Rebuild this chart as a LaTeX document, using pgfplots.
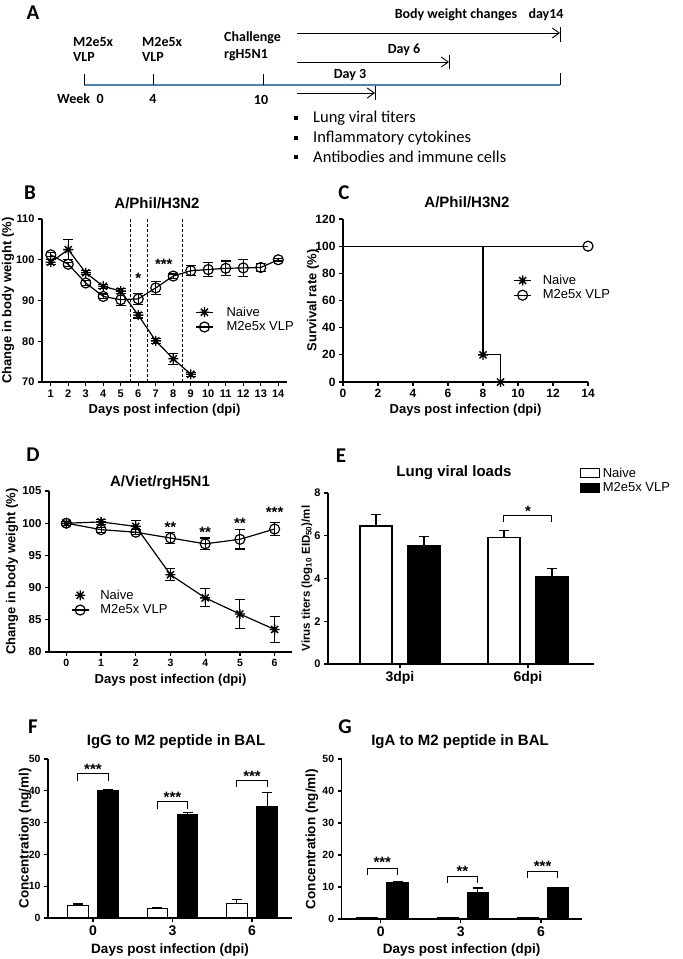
\documentclass[border=0pt]{standalone}
\usepackage{fontspec}
\setmainfont{Liberation Sans}
\newfontfamily\calfont{Carlito}
\usepackage{pgfplots}
\pgfplotsset{compat=1.18}
\usetikzlibrary{arrows.meta}
\definecolor{tlblue}{RGB}{79,129,189}
\newcommand{\fs}[1]{\fontsize{#1}{#1}\selectfont}

% eight-armed asterisk marker (GraphPad style)
\pgfdeclareplotmark{ast}{%
  \pgfpathmoveto{\pgfpoint{-\pgfplotmarksize}{0pt}}%
  \pgfpathlineto{\pgfpoint{\pgfplotmarksize}{0pt}}%
  \pgfpathmoveto{\pgfpoint{0pt}{-\pgfplotmarksize}}%
  \pgfpathlineto{\pgfpoint{0pt}{\pgfplotmarksize}}%
  \pgfpathmoveto{\pgfpoint{-0.707\pgfplotmarksize}{-0.707\pgfplotmarksize}}%
  \pgfpathlineto{\pgfpoint{0.707\pgfplotmarksize}{0.707\pgfplotmarksize}}%
  \pgfpathmoveto{\pgfpoint{-0.707\pgfplotmarksize}{0.707\pgfplotmarksize}}%
  \pgfpathlineto{\pgfpoint{0.707\pgfplotmarksize}{-0.707\pgfplotmarksize}}%
  \pgfusepathqstroke}

\tikzset{st/.style={font=\bfseries\fs{15}, inner sep=0pt, yshift=-3pt}}

\pgfplotsset{
  gp/.style={
    scale only axis, anchor=south west, clip=false,
    axis x line*=bottom, axis y line*=left,
    axis line style={line width=1.3pt},
    tick style={line width=1.2pt, black},
    major tick length=4pt, tick align=outside,
    /pgf/number format/assume math mode=true,
    tick label style={font=\bfseries\fs{11}},
    label style={font=\bfseries\fs{13}},
    legend style={draw=none, fill=none, font=\fs{13}, inner sep=0pt, row sep=0pt},
    legend cell align=left,
  },
  lsep/.style={legend style={/tikz/every odd column/.append style={column sep=#1}}},
  eb/.style={error bars/y dir=both, error bars/y explicit,
    error bars/error bar style={line width=1.1pt, solid},
    error bars/error mark options={rotate=90, mark size=5pt, line width=1.1pt}},
  ebp/.style={eb, error bars/y dir=plus},
  ln/.style={black, line width=1.2pt},
  nv/.style={ln, mark=ast, mark size=5pt, mark options={line width=1.4pt}},
  vl/.style={ln, mark=o, mark size=5pt, mark options={fill=white, line width=1.2pt}},
  wb/.style={ybar, bar shift=0pt, draw=black, fill=white, line width=1.2pt},
  bb/.style={ybar, bar shift=0pt, draw=black, fill=black, line width=1.2pt},
}

\begin{document}
\begin{tikzpicture}
\useasboundingbox (0,0) rectangle (683pt,-959pt);

% ---------- panel A: timeline ----------
\begin{scope}[font=\calfont\bfseries\fs{14}, every node/.style={inner sep=0pt}]
\draw[tlblue, line width=1.6pt] (84pt,-85pt) -- (560pt,-85pt);
\foreach \x in {84,153,263} \draw[line width=1pt] (\x pt,-74pt) -- (\x pt,-85pt);
\draw[line width=1pt] (560pt,-73pt) -- (560pt,-85pt);
\node[anchor=west] at (73pt,-42pt) {M2e5x};
\node[anchor=west] at (73pt,-57pt) {VLP};
\node[anchor=west] at (142pt,-42pt) {M2e5x};
\node[anchor=west] at (142pt,-57pt) {VLP};
\node[anchor=west] at (224pt,-38pt) {Challenge};
\node[anchor=west] at (224pt,-55pt) {rgH5N1};
\node[anchor=west] at (57pt,-99pt) {Week\ \ 0};
\node at (153pt,-99pt) {4};
\node at (261pt,-100pt) {10};
\draw[line width=0.9pt, -{Straight Barb[length=7pt, width=10pt]}] (297pt,-33pt) -- (560pt,-33pt);
\draw[line width=1pt] (560pt,-27pt) -- (560pt,-42pt);
\draw[line width=0.9pt, -{Straight Barb[length=7pt, width=10pt]}] (297pt,-62pt) -- (449pt,-62pt);
\draw[line width=1pt] (449pt,-55pt) -- (449pt,-69pt);
\draw[line width=0.9pt, -{Straight Barb[length=7pt, width=10pt]}] (297pt,-93pt) -- (375pt,-93pt);
\draw[line width=1pt] (375pt,-86pt) -- (375pt,-100pt);
\node at (456pt,-15pt) {Body weight changes};
\node at (546pt,-15pt) {day14};
\node at (404pt,-50pt) {Day 6};
\node at (350pt,-75pt) {Day 3};
\foreach \y/\t in {118/Lung viral titers, 138/Inflammatory cytokines, 157/Antibodies and immune cells} {
  \fill (294pt,-\y pt+2pt) rectangle (298pt,-\y pt-2pt);
  \node[anchor=west, font=\calfont\fs{16.5}] at (313pt,-\y pt) {\t};
}
\end{scope}

% ---------- panel B ----------
\begin{axis}[gp, at={(42pt,-382pt)}, width=245pt, height=163pt,
  xmin=0.5, xmax=14.5, ymin=70, ymax=110,
  xtick={1,...,14}, ytick={70,80,...,110},
  tick label style={font=\bfseries\fs{11}},
  xlabel={Days post infection (dpi)}, ylabel={Change in body weight (\%)},
  xlabel style={at={(axis description cs:0.5,-0.172)}, anchor=center},
  ylabel style={at={(axis description cs:-0.139,0.5)}, anchor=center},
  legend style={at={(axis description cs:0.625,0.475)}, anchor=north west}, lsep=11pt]
\draw[line width=0.8pt, dash pattern=on 3pt off 2pt] (axis cs:5.55,70) -- (axis cs:5.55,110);
\draw[line width=0.8pt, dash pattern=on 3pt off 2pt] (axis cs:6.5,70) -- (axis cs:6.5,110);
\draw[line width=0.8pt, dash pattern=on 3pt off 2pt] (axis cs:8.5,70) -- (axis cs:8.5,110);
\addplot[nv, forget plot, eb] coordinates {
  (1,99.4) +- (0,0.6) (2,102.5) +- (0,2.5) (3,96.8) +- (0,0.5) (4,93.5) +- (0,0.5)
  (5,92.3) +- (0,0.6) (6,86.4) +- (0,0.7) (7,80.1) +- (0,0.6) (8,75.7) +- (0,1.3)
  (9,71.9) +- (0,0.5)};
\addplot[vl, forget plot, eb] coordinates {
  (1,101.2) +- (0,0.5) (2,98.9) +- (0,0.5) (3,94.3) +- (0,0.6) (4,91.0) +- (0,0.6)
  (5,90.2) +- (0,1.5) (6,90.4) +- (0,1.4) (7,93.1) +- (0,1.6) (8,96.0) +- (0,0.5)
  (9,97.3) +- (0,1.2) (10,97.6) +- (0,1.8) (11,97.9) +- (0,1.8) (12,98.0) +- (0,2.0)
  (13,98.1) +- (0,1.0) (14,100.0) +- (0,0.3)};
\addlegendimage{nv}\addlegendentry{Naive}
\addlegendimage{vl}\addlegendentry{M2e5x VLP}
\node[st] at (axis cs:6,96.2) {*};
\node[st] at (axis cs:7.46,99.5) {***};
\end{axis}

% ---------- panel C ----------
\begin{axis}[gp, at={(343pt,-382pt)}, width=245pt, height=163pt,
  xmin=0, xmax=14, ymin=0, ymax=120,
  xtick={0,2,...,14}, ytick={0,20,...,120},
  tick label style={font=\bfseries\fs{12}},
  xlabel={Days post infection (dpi)}, ylabel={Survival rate (\%)},
  xlabel style={at={(axis description cs:0.5,-0.172)}, anchor=center},
  ylabel style={at={(axis description cs:-0.122,0.5)}, anchor=center},
  legend style={at={(axis description cs:0.695,0.67)}, anchor=north west}, lsep=9pt]
\addplot[nv, const plot, mark indices={2,3}, forget plot] coordinates {(0,100) (8,20) (9,0)};
\addplot[vl, const plot, mark indices={2}, forget plot] coordinates {(0,100) (14,100)};
\addlegendimage{nv}\addlegendentry{Naive}
\addlegendimage{vl}\addlegendentry{M2e5x VLP}
\end{axis}

% ---------- panel D ----------
\begin{axis}[gp, at={(49pt,-652pt)}, width=243pt, height=161pt,
  xmin=-0.5, xmax=6.5, ymin=80, ymax=105,
  xtick={0,...,6}, ytick={80,85,...,105},
  yticklabel style={font=\bfseries\fs{11.5}}, xticklabel style={font=\bfseries\fs{10.5}},
  label style={font=\bfseries\fs{13}},
  xlabel={Days post infection (dpi)}, ylabel={Change in body weight (\%)},
  xlabel style={at={(axis description cs:0.5,-0.174)}, anchor=center},
  ylabel style={at={(axis description cs:-0.152,0.5)}, anchor=center},
  legend style={at={(axis description cs:0.09,0.40)}, anchor=north west}, lsep=9pt]
\addplot[nv, forget plot, eb] coordinates {
  (0,100.0) +- (0,0.3) (1,100.2) +- (0,0.4) (2,99.5) +- (0,0.9) (3,92.0) +- (0,0.9)
  (4,88.4) +- (0,1.4) (5,85.9) +- (0,2.2) (6,83.5) +- (0,2.0)};
\addplot[vl, forget plot, eb] coordinates {
  (0,100.0) +- (0,0.3) (1,99.0) +- (0,0.4) (2,98.6) +- (0,0.4) (3,97.7) +- (0,0.9)
  (4,96.8) +- (0,0.9) (5,97.5) +- (0,1.5) (6,99.1) +- (0,1.0)};
\addlegendimage{nv, only marks}\addlegendentry{Naive}
\addlegendimage{vl}\addlegendentry{M2e5x VLP}
\node[st] at (axis cs:3,99.8) {**};
\node[st] at (axis cs:4,99.1) {**};
\node[st] at (axis cs:5,100.4) {**};
\node[st] at (axis cs:6,102.1) {***};
\end{axis}

% ---------- panel E ----------
\begin{axis}[gp, at={(328pt,-664pt)}, width=266pt, height=171pt,
  xmin=-0.5625, xmax=1.516, ymin=0, ymax=8,
  xtick={0,1}, xticklabels={3dpi,6dpi}, ytick={0,2,...,8},
  bar width=0.25,
  yticklabel style={font=\bfseries\fs{11}}, xticklabel style={font=\bfseries\fs{14}},
  label style={font=\bfseries\fs{11.5}},
  ylabel={Virus titers (log\textsubscript{10} EID\textsubscript{50})/ml},
  ylabel style={at={(axis description cs:-0.079,0.5)}, anchor=center},
  legend style={at={(axis description cs:0.945,1.16)}, anchor=north west}, lsep=1pt]
\addplot[wb, forget plot, ebp] coordinates {(-0.1875,6.46) +- (0,0.54) (0.8125,5.92) +- (0,0.31)};
\addplot[bb, forget plot, ebp] coordinates {(0.1875,5.56) +- (0,0.42) (1.1875,4.07) +- (0,0.40)};
\addlegendimage{legend image code/.code={\draw[fill=white, line width=1.2pt] (0pt,-4.5pt) rectangle (19pt,4.5pt);}}
\addlegendentry{Naive}
\addlegendimage{legend image code/.code={\draw[fill=black, line width=1.2pt] (0pt,-4.5pt) rectangle (19pt,4.5pt);}}
\addlegendentry{M2e5x VLP}
\draw[line width=1pt] (axis cs:0.8125,6.64) |- (axis cs:1.1875,6.95) -- (axis cs:1.1875,6.64);
\node[st] at (axis cs:1,7.3) {*};
\end{axis}

% ---------- panel F ----------
\begin{axis}[gp, at={(48pt,-918pt)}, width=244pt, height=159pt,
  xmin=-0.566, xmax=2.503, ymin=0, ymax=50,
  xtick={0,1,2}, xticklabels={0,3,6}, ytick={0,10,...,50},
  bar width=0.258,
  yticklabel style={font=\bfseries\fs{10.5}}, xticklabel style={font=\bfseries\fs{14}},
  label style={font=\bfseries\fs{13.5}},
  xlabel={Days post infection (dpi)}, ylabel={Concentration (ng/ml)},
  xlabel style={at={(axis description cs:0.5,-0.2)}, anchor=center},
  ylabel style={at={(axis description cs:-0.094,0.5)}, anchor=center}]
\addplot[wb, ebp] coordinates {(-0.19,3.9) +- (0,0.5) (0.81,3.0) +- (0,0.2) (1.81,4.6) +- (0,1.2)};
\addplot[bb, ebp] coordinates {(0.19,40.1) +- (0,0.4) (1.19,32.4) +- (0,0.7) (2.19,35.0) +- (0,4.5)};
\draw[line width=1pt] (axis cs:-0.19,43.0) |- (axis cs:0.19,45.3) -- (axis cs:0.19,43.0);
\draw[line width=1pt] (axis cs:0.81,34.4) |- (axis cs:1.19,36.5) -- (axis cs:1.19,34.4);
\draw[line width=1pt] (axis cs:1.81,41.1) |- (axis cs:2.19,43.2) -- (axis cs:2.19,41.1);
\node[st] at (axis cs:0,47.7) {***};
\node[st] at (axis cs:1,38.8) {***};
\node[st] at (axis cs:2,45.6) {***};
\end{axis}

% ---------- panel G ----------
\begin{axis}[gp, at={(341.7pt,-919pt)}, width=240pt, height=160pt,
  xmin=-0.486, xmax=2.507, ymin=0, ymax=50,
  xtick={0,1,2}, xticklabels={0,3,6}, ytick={0,10,...,50},
  bar width=0.26,
  yticklabel style={font=\bfseries\fs{10.5}}, xticklabel style={font=\bfseries\fs{14}},
  label style={font=\bfseries\fs{13.5}},
  xlabel={Days post infection (dpi)}, ylabel={Concentration (ng/ml)},
  xlabel style={at={(axis description cs:0.5,-0.194)}, anchor=center},
  ylabel style={at={(axis description cs:-0.124,0.5)}, anchor=center}]
\addplot[wb, ebp] coordinates {(-0.165,0.3) +- (0,0.1) (0.835,0.4) +- (0,0.1) (1.835,0.3) +- (0,0.1)};
\addplot[bb, ebp] coordinates {(0.21,11.5) +- (0,0.2) (1.21,8.4) +- (0,1.3) (2.21,9.7) +- (0,0.2)};
\draw[line width=1pt] (axis cs:-0.165,13.9) |- (axis cs:0.21,15.9) -- (axis cs:0.21,13.9);
\draw[line width=1pt] (axis cs:0.835,11.3) |- (axis cs:1.21,13.3) -- (axis cs:1.21,11.3);
\draw[line width=1pt] (axis cs:1.835,12.9) |- (axis cs:2.21,15.0) -- (axis cs:2.21,12.9);
\node[st] at (axis cs:0.02,18.5) {***};
\node[st] at (axis cs:1.02,15.9) {**};
\node[st] at (axis cs:2.02,17.5) {***};
\end{axis}

% ---------- panel letters and titles ----------
\begin{scope}[every node/.style={font=\calfont\bfseries\fs{21}}]
\node at (33pt,-13pt) {A};
\node at (30pt,-193pt) {B};
\node at (344pt,-193pt) {C};
\node at (33pt,-455pt) {D};
\node at (341pt,-456pt) {E};
\node at (33pt,-727pt) {F};
\node at (345pt,-727pt) {G};
\end{scope}
\begin{scope}[every node/.style={font=\bfseries\fs{15}}]
\node at (157pt,-203pt) {A/Phil/H3N2};
\node at (467pt,-202pt) {A/Phil/H3N2};
\node at (160pt,-483pt) {A/Viet/rgH5N1};
\node at (454pt,-473pt) {Lung viral loads};
\node at (176pt,-742pt) {IgG to M2 peptide in BAL};
\node at (460pt,-742pt) {IgA to M2 peptide in BAL};
\end{scope}
\end{tikzpicture}
\end{document}
